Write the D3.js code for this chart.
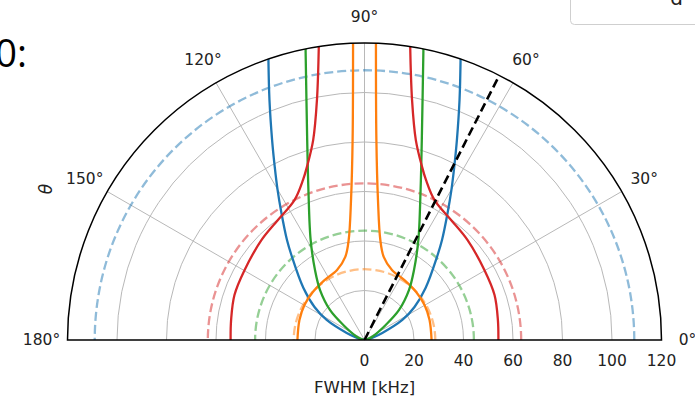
<!DOCTYPE html>
<html><head><meta charset="utf-8">
<script src="https://cdn.jsdelivr.net/npm/d3@7"></script>
<style>html,body{margin:0;padding:0;background:#fff;overflow:hidden} svg{display:block}</style>
</head><body><svg id="c" width="695" height="397"></svg>
<script>
// ---------- data ----------
const thetaTicks = [0, 30, 60, 90, 120, 150, 180];
const thetaTickLabels = ["0°", "30°", "60°", "90°", "120°", "150°", "180°"];
const rTicks = [0, 20, 40, 60, 80, 100, 120];
const rTickLabels = ["0", "20", "40", "60", "80", "100", "120"];
const rGrid = [20, 40, 60, 80, 100];

// solid curves: right half (theta in degrees, FWHM in kHz), left half is the mirror about 90°
const blueTheta   = [0, 10.9, 16.0, 21.5, 27.9, 33.4, 40.4, 49.3, 52.2, 56.8, 59.9, 62.6, 65.2, 68.4, 71.2];
const blueFwhm    = [0, 1.24, 3.36, 7.73, 17.3, 24.2, 32.4, 45.3, 51.1, 61.3, 70.0, 78.8, 89.0, 104.3, 120.5];
const orangeTheta = [0, 17.1, 30.3, 42.9, 56.3, 68.6, 77.0, 81.0, 84.5, 86.6, 87.8];
const orangeFwhm  = [27.1, 27.5, 28.1, 28.5, 29.1, 30.4, 34.5, 40.9, 56.8, 81.0, 120.5];
const greenTheta  = [0, 14.7, 22.9, 35.3, 41.0, 48.3, 54.7, 61.7, 69.5, 74.0, 78.6];
const greenFwhm   = [0, 1.3, 3.4, 10.5, 18.5, 27.0, 34.6, 45.9, 64.7, 84.0, 120.5];
const redTheta    = [0, 8.5, 19.1, 30.3, 44.2, 54.2, 63.4, 69.0, 71.6, 75.6, 78.8, 81.2];
const redFwhm     = [54.1, 54.5, 55.6, 56.1, 58.0, 59.8, 63.2, 69.3, 73.7, 83.4, 98.9, 120.6];

// dashed reference circles (kHz)
const dashedNames = ["blue", "orange", "green", "red"];
const dashedFwhm  = [109.0, 28.6, 44.2, 63.3];

// black dashed reference direction (degrees)
const refAngle = [63];
const refRange = [0, 120];

const colors = {blue: "#1f77b4", orange: "#ff7f0e", green: "#2ca02c", red: "#d62728"};

// ---------- layout ----------
const svg = d3.select("#c");
const cx = 364.5, cy = 340, R = 297;
const r = d3.scaleLinear().domain([0, 120]).range([0, R]);
const ang = d3.scaleLinear().domain([0, 180]).range([Math.PI / 2, -Math.PI / 2]); // d3 radial angle

const g = svg.append("g").attr("transform", `translate(${cx},${cy})`);

svg.append("defs").append("clipPath").attr("id", "clip")
  .append("path").attr("d", d3.arc()({innerRadius: 0, outerRadius: R, startAngle: -Math.PI / 2, endAngle: Math.PI / 2}));

function halfCircle(rad) {
  const p = d3.path();
  p.moveTo(rad, 0);
  p.arc(0, 0, rad, 0, Math.PI, true);
  return p.toString();
}

// grid
g.selectAll(".rg").data(rGrid).join("path")
  .attr("d", d => halfCircle(r(d)))
  .attr("fill", "none").attr("stroke", "#b8b8b8").attr("stroke-width", 1);
g.selectAll(".tg").data(thetaTicks.slice(1, -1)).join("line")
  .attr("x1", 0).attr("y1", 0)
  .attr("x2", d => r(120) * Math.sin(ang(d)))
  .attr("y2", d => -r(120) * Math.cos(ang(d)))
  .attr("stroke", "#b8b8b8").attr("stroke-width", 1);

const plot = g.append("g").attr("clip-path", "url(#clip)");

// dashed circles
plot.selectAll(".dc").data(dashedNames).join("path")
  .attr("d", (d, i) => halfCircle(r(dashedFwhm[i])))
  .attr("fill", "none").attr("stroke", d => colors[d])
  .attr("stroke-opacity", 0.5).attr("stroke-width", 2.3)
  .attr("stroke-dasharray", "9,4");

// solid curves
const line = d3.lineRadial().angle(d => ang(d[0])).radius(d => r(d[1])).curve(d3.curveCatmullRom.alpha(0.5));
const curves = [
  ["blue", blueTheta, blueFwhm],
  ["orange", orangeTheta, orangeFwhm],
  ["green", greenTheta, greenFwhm],
  ["red", redTheta, redFwhm]
];
curves.forEach(([name, th, fw]) => {
  const right = th.map((t, i) => [t, fw[i]]);
  const left = th.map((t, i) => [180 - t, fw[i]]);
  [right, left].forEach(pts => {
    plot.append("path").attr("d", line(pts))
      .attr("fill", "none").attr("stroke", colors[name]).attr("stroke-width", 2.3);
  });
});

// black dashed reference line
plot.append("path")
  .attr("d", d3.lineRadial().angle(d => ang(refAngle[0])).radius(d => r(d))(refRange))
  .attr("fill", "none").attr("stroke", "#000").attr("stroke-width", 2.6)
  .attr("stroke-dasharray", "9,4.5");

// frame (outer arc + baseline)
g.append("path")
  .attr("d", d3.arc()({innerRadius: 0, outerRadius: R, startAngle: -Math.PI / 2, endAngle: Math.PI / 2}))
  .attr("fill", "none").attr("stroke", "#000").attr("stroke-width", 1.5);

// theta tick labels
const font = "DejaVu Sans, sans-serif";
g.selectAll(".tl").data(thetaTicks).join("text")
  .attr("x", d => 323 * Math.sin(ang(d)))
  .attr("y", d => -323 * Math.cos(ang(d)))
  .attr("text-anchor", "middle").attr("dominant-baseline", "central")
  .attr("font-family", font).attr("font-size", 15.5).attr("fill", "#222")
  .text((d, i) => thetaTickLabels[i]);

// radial tick labels
g.selectAll(".rl").data(rTicks).join("text")
  .attr("x", d => r(d)).attr("y", 26)
  .attr("text-anchor", "middle")
  .attr("font-family", font).attr("font-size", 15.5).attr("fill", "#222")
  .text((d, i) => rTickLabels[i]);

// axis labels
g.append("text").attr("x", 0).attr("y", 53).attr("text-anchor", "middle")
  .attr("font-family", font).attr("font-size", 16.5).attr("fill", "#222").text("FWHM [kHz]");
svg.append("text").attr("transform", "translate(52,189) rotate(-90)")
  .attr("text-anchor", "middle").attr("font-family", font).attr("font-style", "italic")
  .attr("font-size", 17).attr("fill", "#222").text("θ");

// cropped neighbours of the figure
svg.append("text").attr("x", 27).attr("y", 67).attr("text-anchor", "end")
  .attr("font-family", "Open Sans, sans-serif").attr("font-size", 38).attr("fill", "#000").text("0:");
svg.append("rect").attr("x", 570.5).attr("y", -20).attr("width", 140).attr("height", 44.5)
  .attr("rx", 4).attr("fill", "#fff").attr("stroke", "#cfcfcf").attr("stroke-width", 1);
svg.append("text").attr("x", 683).attr("y", 5).attr("text-anchor", "end")
  .attr("font-family", font).attr("font-size", 20).attr("fill", "#222").text("d");
</script>
</body></html>
